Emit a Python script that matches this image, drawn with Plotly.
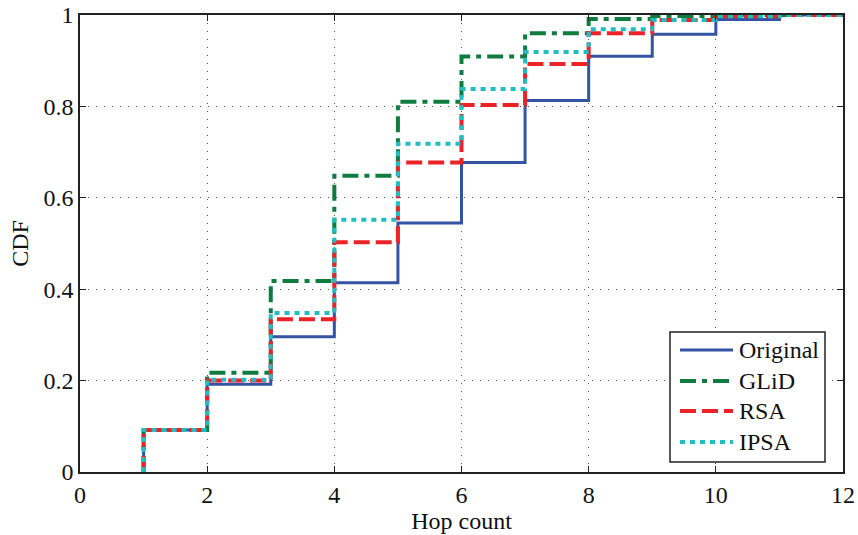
import plotly.graph_objects as go

# Hop counts at which each CDF step starts (last entry closes the final step)
hops = [1, 2, 3, 4, 5, 6, 7, 8, 9, 10, 11, 12]

# Empirical CDF level held from each hop count to the next
cdf_original = [0.092, 0.192, 0.296, 0.414, 0.545, 0.677, 0.813, 0.910, 0.958, 0.990, 1.0]
cdf_glid = [0.092, 0.217, 0.418, 0.648, 0.810, 0.909, 0.960, 0.991, 0.998, 1.0, 1.0]
cdf_rsa = [0.092, 0.200, 0.334, 0.503, 0.677, 0.803, 0.893, 0.960, 0.989, 0.997, 1.0]
cdf_ipsa = [0.092, 0.202, 0.348, 0.552, 0.718, 0.838, 0.919, 0.969, 0.989, 0.997, 1.0]

x_ticks = [0, 2, 4, 6, 8, 10, 12]
y_ticks = [0, 0.2, 0.4, 0.6, 0.8, 1.0]
y_tick_text = ["0", "0.2", "0.4", "0.6", "0.8", "1"]

FONT = "Liberation Serif, Times New Roman, serif"

series = [
    ("Original", cdf_original, "#3453A3", 3, "solid"),
    ("GLiD", cdf_glid, "#0E7C3E", 4, "16px,6px,5px,6px"),
    ("RSA", cdf_rsa, "#EC2227", 4, "16px,6px"),
    ("IPSA", cdf_ipsa, "#22BDC2", 4, "5px,5px"),
]

# Figure geometry (pixels)
W, H = 858, 535
ML, MR, MT, MB = 80, 15, 15, 63
PW, PH = W - ML - MR, H - MT - MB


def px_x(px):
    return (px - ML) / PW


def px_y(py):
    return (H - MB - py) / PH


def step_xy(levels):
    # start from zero at the first hop count, then hold each level until the next hop
    xs = [hops[0]] + hops
    ys = [0.0] + levels + [levels[-1]]
    return xs, ys


fig = go.Figure()
for name, levels, color, width, dash in series:
    xs, ys = step_xy(levels)
    fig.add_trace(go.Scatter(
        x=xs, y=ys, mode="lines", name=name, line_shape="hv",
        line=dict(color=color, width=width, dash=dash), showlegend=False,
    ))

# Boxed legend in the lower-right corner with long line samples
shapes = [dict(type="rect", xref="paper", yref="paper",
               x0=px_x(670), x1=px_x(825), y0=px_y(462), y1=px_y(332),
               line=dict(color="#222", width=1.5), fillcolor="white", layer="above")]
annotations = []
row_y = [350, 381, 411, 442]
for (name, _, color, width, dash), ry in zip(series, row_y):
    shapes.append(dict(type="line", xref="paper", yref="paper",
                       x0=px_x(680), x1=px_x(733), y0=px_y(ry), y1=px_y(ry),
                       line=dict(color=color, width=width, dash=dash), layer="above"))
    annotations.append(dict(xref="paper", yref="paper", x=px_x(737), y=px_y(ry),
                            text=name, showarrow=False, xanchor="left", yanchor="middle",
                            font=dict(family=FONT, size=24, color="#111")))

axis_common = dict(
    showline=True, linecolor="#222", linewidth=1.5, mirror="ticks",
    ticks="inside", ticklen=6, tickcolor="#222",
    showgrid=True, gridcolor="#555", griddash="1px,7px", gridwidth=1,
    zeroline=False, automargin=False,
    tickfont=dict(family=FONT, size=24, color="#111"),
)

fig.update_layout(
    width=W, height=H,
    margin=dict(l=ML, r=MR, t=MT, b=MB),
    paper_bgcolor="white", plot_bgcolor="white",
    font=dict(family=FONT, size=24, color="#111"),
    xaxis=dict(range=[0, 12], tickvals=x_ticks,
               title=dict(text="Hop count", font=dict(family=FONT, size=24), standoff=2),
               **axis_common),
    yaxis=dict(range=[0, 1], tickvals=y_ticks, ticktext=y_tick_text,
               title=dict(text="CDF", font=dict(family=FONT, size=24), standoff=8),
               **axis_common),
    shapes=shapes,
    annotations=annotations,
    showlegend=False,
)

fig.write_html("out.html")
